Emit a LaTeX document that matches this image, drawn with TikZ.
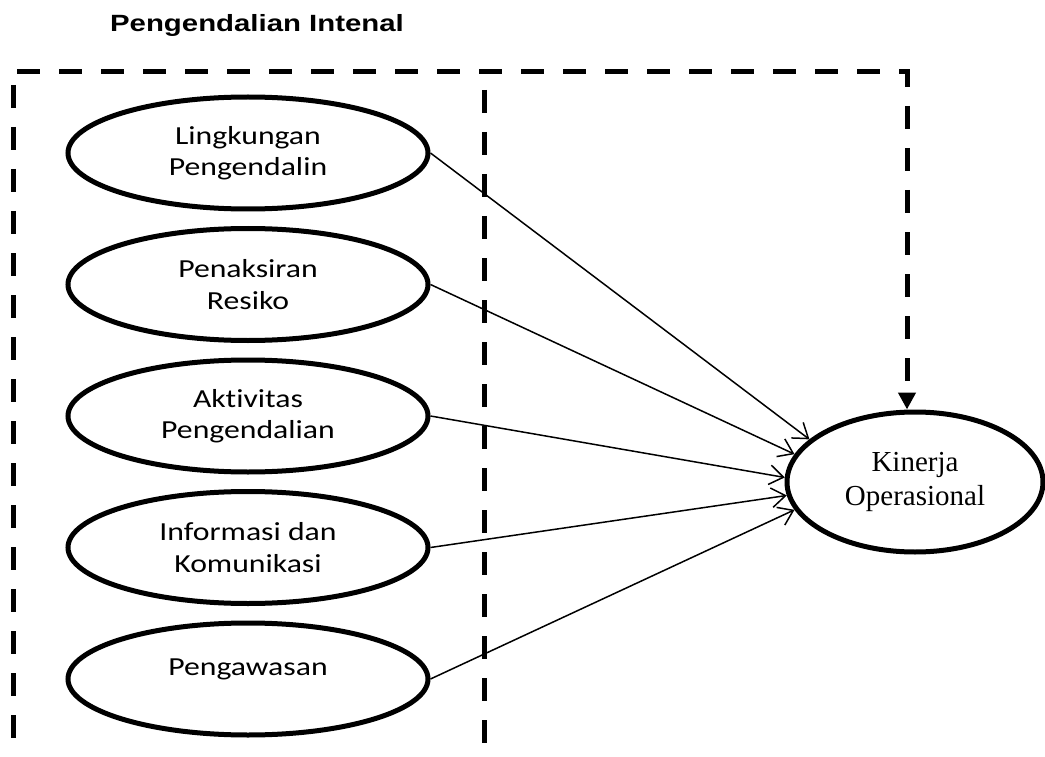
\documentclass[tikz,border=0pt]{standalone}
\usepackage{fontspec}
\setmainfont{Liberation Serif}
\newfontfamily\dimfont[FakeStretch=1.22, Ligatures=CommonOff]{Carlito}
\newfontfamily\titlefont[FakeStretch=1.25]{Liberation Sans}
\usetikzlibrary{positioning, arrows.meta, shapes.geometric}

\begin{document}
\begin{tikzpicture} [x = 1pt, y = -1pt,
			node distance = 131.5pt,
			on grid,
			dim/.style = {ellipse, draw = black, line width = 5pt,
				minimum width = 360pt, minimum height = 112pt,
				inner sep = 0pt, align = center,
				font = \fontsize{26}{31.5}\selectfont\dimfont
			},
			var/.style = {ellipse, draw = black, line width = 5pt,
				minimum width = 256pt, minimum height = 140pt,
				inner sep = 0pt, align = center,
				font = \fontsize{29}{34}\selectfont
			},
			frame/.style = {line width = 5pt, dash pattern = on 23pt off 19pt}
			]
			\useasboundingbox (0,0) rectangle (1045,757);
			% Title
			\node (title) [anchor = base] at (257,32)
				{\fontsize{23.5}{28}\selectfont\titlefont\bfseries Pengendalian Intenal};
			% Dimensions
			\node (x1) [dim] at (248,153) {Lingkungan\\Pengendalin};
			\node (x2) [dim, below = of x1] {Penaksiran\\Resiko};
			\node (x3) [dim, below = of x2] {Aktivitas\\Pengendalian};
			\node (x4) [dim, below = of x3] {Informasi dan\\Komunikasi};
			\node (x5) [dim, below = of x4] {Pengawasan\\[-8pt]\mbox{}};
			% Variable
			\node (y) [var] at (915,482) {Kinerja\\Operasional};
			% Frame
			\coordinate (tl) at (17,72);
			\coordinate (tr) at (907,72);
			\coordinate (lt) at (13,85);
			\coordinate (lb) at (13,757);
			\coordinate (mt) at (484,90);
			\coordinate (mb) at (484,757);
			\draw [frame] (lt) -- (lb);
			\draw [frame] (mt) -- (mb);
			\draw [frame, -{Triangle[length = 17pt, width = 17pt]}]
				(tl) -- (tr) -- (tr |- y.north);
			%Transitions
			\path [-{Straight Barb[angle = 70:17pt]}, line width = 1.5pt]
			
			(x1.east) edge (y.158)
			(x2.east) edge (y.167)
			(x3.east) edge (y.178)
			(x4.east) edge (y.186)
			(x5.east) edge (y.193);
		\end{tikzpicture}
\end{document}
